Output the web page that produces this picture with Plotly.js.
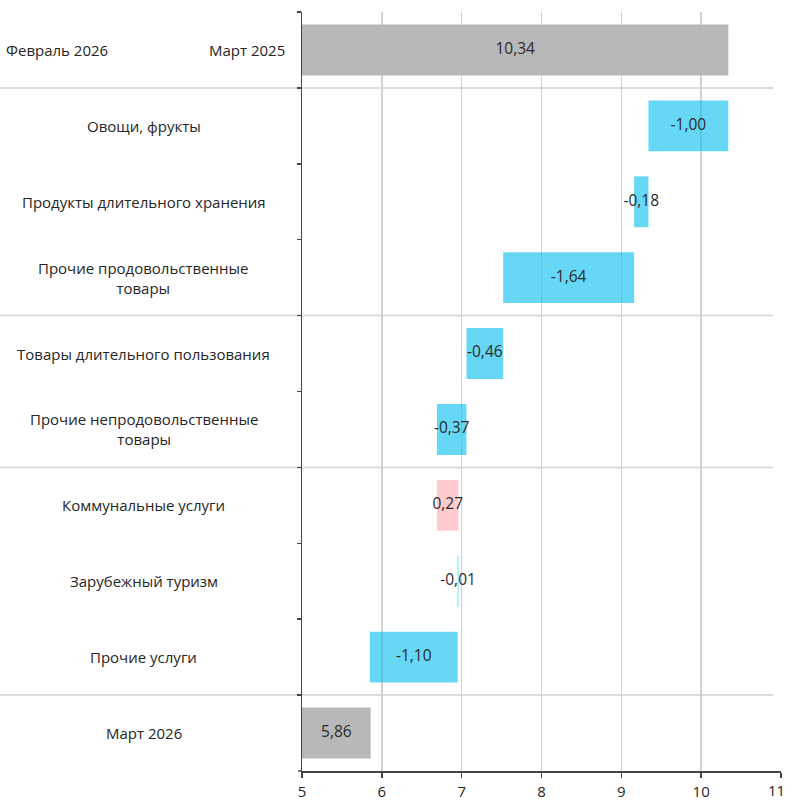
<!DOCTYPE html>
<html>
<head>
<meta charset="utf-8">
<script src="https://cdn.plot.ly/plotly-3.0.1.min.js"></script>
<style>html,body{margin:0;padding:0;background:#fff;}#chart{width:788px;height:803px;}</style>
</head>
<body>
<div id="chart"></div>
<script>
// ---- data ----
const categories = ['Март 2025', 'Овощи, фрукты', 'Продукты длительного хранения',
  'Прочие продовольственные<br>товары', 'Товары длительного пользования',
  'Прочие непродовольственные<br>товары', 'Коммунальные услуги', 'Зарубежный туризм',
  'Прочие услуги', 'Март 2026'];
const measures = ['total', 'relative', 'relative', 'relative', 'relative', 'relative',
  'relative', 'relative', 'relative', 'total'];
const values = [10.34, -1.00, -0.18, -1.64, -0.46, -0.37, 0.27, -0.01, -1.10, 5.86];
const extraLabel = 'Февраль 2026';
const xTicks = [5, 6, 7, 8, 9, 10, 11];
const groupBreaks = [1, 4, 6, 9]; // separator before these row indices

// ---- layout constants ----
const W = 788, H = 803;
const M = {l: 302, r: 7, t: 12, b: 32};
const plotW = W - M.l - M.r;
const xRange = [5, 11];
const FONT = 'Open Sans, Noto Sans, sans-serif';
const colTotal = '#b7b8ba', colDown = 'rgba(0,188,238,0.6)', colUp = 'rgba(255,160,166,0.55)';

// waterfall geometry from the data
const bases = [], lens = [], colors = [], texts = [], textX = [];
let running = 0;
values.forEach((v, i) => {
  let lo, hi;
  if (measures[i] === 'total') {
    lo = xRange[0]; hi = v; running = v; colors.push(colTotal);
  } else {
    lo = Math.min(running, running + v); hi = Math.max(running, running + v);
    running += v; colors.push(v < 0 ? colDown : colUp);
  }
  bases.push(lo); lens.push(hi - lo);
  texts.push(v.toFixed(2).replace('.', ','));
  textX.push((lo + hi) / 2);
});

const bars = {
  type: 'bar', orientation: 'h', y: categories, x: lens, base: bases,
  marker: {color: colors, line: {width: 0}}, width: 0.67, hoverinfo: 'skip'
};
const labels = {
  type: 'scatter', mode: 'text', y: categories, x: textX, text: texts,
  textposition: 'middle center', textfont: {family: FONT, size: 15.5, color: '#2b2b2b'},
  hoverinfo: 'skip', cliponaxis: false
};

const n = categories.length;
const shapes = groupBreaks.map(k => ({
  type: 'line', xref: 'paper', yref: 'paper',
  x0: -M.l / plotW, x1: (773 - M.l) / plotW,
  y0: 1 - k / n, y1: 1 - k / n,
  line: {color: '#dcdcdc', width: 2}, layer: 'below'
}));
// small extension of the x axis line to the left of the y axis
shapes.push({type: 'line', xref: 'paper', yref: 'paper', x0: -4 / plotW, x1: 0, y0: 0, y1: 0,
  line: {color: '#444', width: 1.5}});

const labelX = (143.5 - M.l) / plotW;
const annotations = categories.map((c, i) => {
  if (i === 0) {
    return {xref: 'paper', yref: 'y', x: (287 - M.l) / plotW, y: c, text: c,
      xanchor: 'right', showarrow: false, font: {family: FONT, size: 15, color: '#262626'}};
  }
  return {xref: 'paper', yref: 'y', x: labelX, y: c, text: c, xanchor: 'center', align: 'center',
    showarrow: false, font: {family: FONT, size: 15, color: '#262626'}};
});
annotations.push({xref: 'paper', yref: 'y', x: -(M.l - 4) / plotW, y: categories[0], text: extraLabel,
  xanchor: 'left', showarrow: false, font: {family: FONT, size: 15, color: '#262626'}});
// last x tick label kept inside the page edge
const lastTick = xTicks[xTicks.length - 1];
annotations.push({xref: 'paper', yref: 'paper', x: 1 + (M.r - 1) / plotW, y: 0, yshift: -19,
  xanchor: 'right', yanchor: 'middle', text: String(lastTick), showarrow: false,
  font: {family: FONT, size: 15, color: '#262626'}});

const layout = {
  width: W, height: H, margin: M, showlegend: false,
  paper_bgcolor: '#fff', plot_bgcolor: '#fff',
  font: {family: FONT, size: 15, color: '#262626'},
  xaxis: {range: xRange, tickvals: xTicks,
    ticktext: xTicks.map(t => t === lastTick ? '' : String(t)),
    showgrid: true, gridcolor: '#d2d2d2', gridwidth: 1.5, zeroline: false,
    showline: true, linecolor: '#444', linewidth: 1.5,
    ticks: 'outside', ticklen: 5, tickcolor: '#444', tickwidth: 1.5,
    ticklabelstandoff: 1, ticklabeloverflow: 'allow',
    tickfont: {family: FONT, size: 15, color: '#262626'}, fixedrange: true},
  yaxis: {type: 'category', autorange: 'reversed', showticklabels: false,
    showgrid: false, zeroline: false, showline: true, linecolor: '#444', linewidth: 1.5,
    ticks: 'outside', tickson: 'boundaries', ticklen: 4, tickcolor: '#444', tickwidth: 1.5,
    fixedrange: true},
  shapes: shapes, annotations: annotations, bargap: 0.33
};

Plotly.newPlot('chart', [bars, labels], layout, {staticPlot: true, displayModeBar: false});
</script>
</body>
</html>
